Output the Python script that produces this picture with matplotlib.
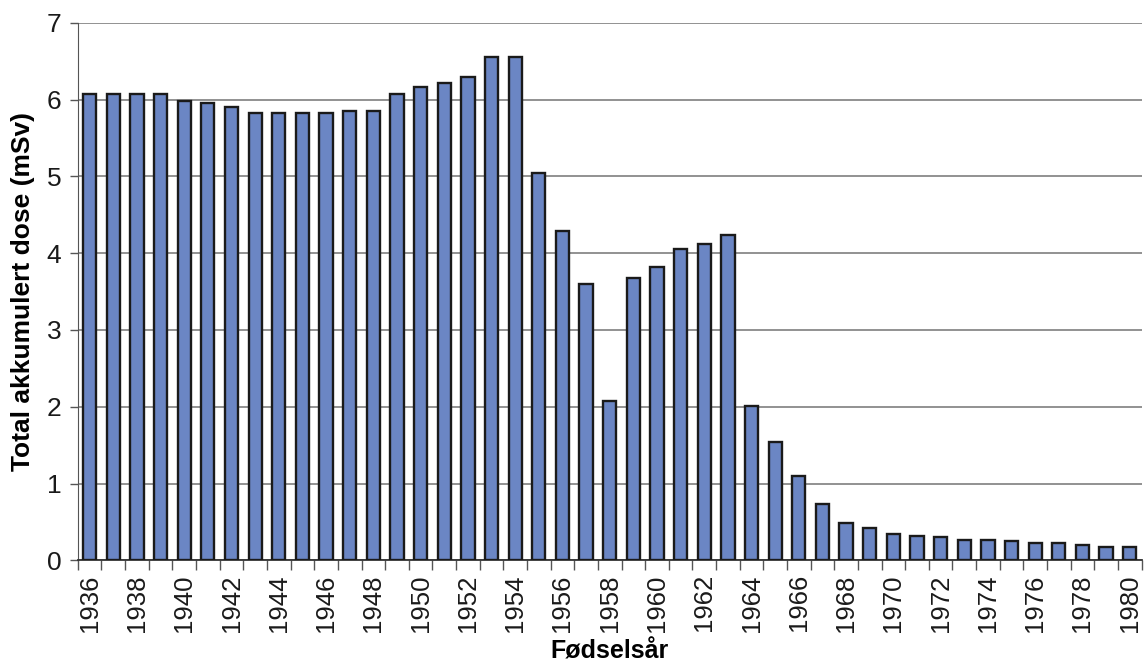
import numpy as np
import matplotlib.pyplot as plt
from matplotlib.ticker import FixedLocator

plt.rcParams['font.family'] = ['Liberation Sans', 'DejaVu Sans']
plt.rcParams['text.color'] = '#1a1a1a'

# data
years = list(range(1936, 1981))
dose = [6.07, 6.07, 6.07, 6.07, 5.98, 5.95, 5.90, 5.82, 5.82, 5.82,
        5.82, 5.85, 5.85, 6.07, 6.17, 6.22, 6.30, 6.56, 6.56, 5.05,
        4.29, 3.60, 2.08, 3.68, 3.82, 4.05, 4.12, 4.24, 2.01, 1.54,
        1.10, 0.73, 0.49, 0.42, 0.34, 0.32, 0.30, 0.27, 0.27, 0.25,
        0.22, 0.22, 0.20, 0.17, 0.17]

fig = plt.figure(figsize=(11.45, 6.71), dpi=100)
ax = fig.add_axes([0.068, 0.165, 0.929, 0.801])

x = np.arange(len(years))
ax.bar(x, dose, width=0.56, color='#6B86C4', edgecolor='#1a1a1a', linewidth=1.7, zorder=3)

ax.set_xlim(-0.5, len(years) - 0.5)
ax.set_ylim(0, 7)
ax.set_yticks(range(0, 8))
ax.yaxis.grid(True, color='#7f7f7f', linewidth=1.2, zorder=0)

# labels every second year, tick marks between categories
ax.set_xticks(x[::2])
ax.set_xticklabels([str(y) for y in years[::2]], rotation=90)
ax.tick_params(axis='x', which='major', length=0, pad=10, labelsize=18.5, labelcolor='#1a1a1a')
ax.xaxis.set_minor_locator(FixedLocator(np.arange(-0.5, len(years), 1.0)))
ax.tick_params(axis='x', which='minor', length=7, width=1.0, color='#555555')
ax.tick_params(axis='y', length=6, width=1.0, color='#555555', labelsize=19, pad=6,
               labelcolor='#1a1a1a')

for s in ['top', 'right']:
    ax.spines[s].set_visible(False)
ax.spines['left'].set_color('#555555')
ax.spines['bottom'].set_color('#333333')
ax.spines['bottom'].set_linewidth(1.3)

ax.set_xlabel('Fødselsår', fontsize=18, fontweight='bold')
ax.xaxis.set_label_coords(0.5, -0.148)
ax.set_ylabel('Total akkumulert dose (mSv)', fontsize=19, fontweight='bold', labelpad=8)

fig.savefig('out.png', dpi=100)
